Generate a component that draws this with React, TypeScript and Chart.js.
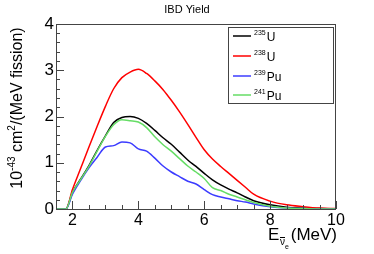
import React, { useEffect, useRef } from "react";
import { Chart, registerables } from "chart.js";

Chart.register(...registerables);

const energies = [1.5, 1.8, 2.0, 2.25, 2.5, 2.75, 3.0, 3.25, 3.5, 3.75, 4.0, 4.25, 4.5, 4.75, 5.0, 5.25, 5.5, 5.75, 6.0, 6.25, 6.5, 6.75, 7.0, 7.25, 7.5, 8.0, 8.5, 9.0, 9.5, 10.0];
const u235 = [0, 0, 0.36, 0.65, 0.94, 1.27, 1.58, 1.87, 1.98, 2.0, 1.96, 1.85, 1.7, 1.54, 1.4, 1.23, 1.06, 0.92, 0.77, 0.63, 0.52, 0.43, 0.35, 0.26, 0.18, 0.09, 0.04, 0.02, 0.01, 0];
const u238 = [0, 0, 0.42, 0.88, 1.34, 1.79, 2.22, 2.6, 2.84, 2.96, 3.02, 2.93, 2.77, 2.58, 2.35, 2.1, 1.83, 1.55, 1.28, 1.08, 0.92, 0.77, 0.62, 0.47, 0.32, 0.17, 0.09, 0.05, 0.02, 0.01];
const pu239 = [0, 0, 0.32, 0.62, 0.89, 1.12, 1.34, 1.37, 1.45, 1.43, 1.3, 1.25, 1.1, 0.93, 0.8, 0.7, 0.6, 0.54, 0.42, 0.31, 0.26, 0.22, 0.18, 0.15, 0.11, 0.05, 0.02, 0.01, 0, 0];
const pu241 = [0, 0, 0.36, 0.64, 0.92, 1.25, 1.57, 1.82, 1.93, 1.91, 1.88, 1.76, 1.56, 1.39, 1.25, 1.09, 0.93, 0.8, 0.66, 0.46, 0.4, 0.32, 0.26, 0.2, 0.14, 0.06, 0.02, 0.01, 0, 0];

const seriesSup = ["235", "238", "239", "241"];
const seriesBase = ["U", "U", "Pu", "Pu"];
const seriesColors = ["#000000", "#ff0000", "#3c3cff", "#66dd66"];
const xMajorTicks = [2, 4, 6, 8, 10];
const yMajorTicks = [0, 1, 2, 3, 4];
const titleText = "IBD Yield";

const FONT = "'Liberation Sans', Arial, Helvetica, sans-serif";

const decorPlugin = {
  id: "decor",
  afterDatasetsDraw(chart: any) {
    const ctx = chart.ctx as CanvasRenderingContext2D;
    const { left, right, top, bottom } = chart.chartArea;
    const xs = chart.scales.x;
    const ys = chart.scales.y;
    ctx.save();
    // frame
    ctx.strokeStyle = "#444";
    ctx.lineWidth = 1;
    ctx.strokeRect(Math.round(left) + 0.5, Math.round(top) + 0.5, Math.round(right - left) - 1, Math.round(bottom - top));
    // inward ticks
    ctx.beginPath();
    for (let v = 1.5; v <= 10.001; v += 0.5) {
      const px = Math.round(xs.getPixelForValue(v)) + 0.5;
      const major = Math.abs(v - Math.round(v / 2) * 2) < 1e-6;
      const len = major ? 8 : 4;
      ctx.moveTo(px, bottom);
      ctx.lineTo(px, bottom - len);
    }
    for (let v = 0; v <= 4.001; v += 0.2) {
      const py = Math.round(ys.getPixelForValue(v)) + 0.5;
      const major = Math.abs(v - Math.round(v)) < 1e-6;
      const len = major ? 8 : 4;
      ctx.moveTo(left, py);
      ctx.lineTo(left + len, py);
    }
    ctx.stroke();

    // title
    ctx.fillStyle = "#000";
    ctx.font = `11px ${FONT}`;
    ctx.textAlign = "center";
    ctx.textBaseline = "alphabetic";
    ctx.fillText(titleText, 187, 13);

    // x axis title: E_{nu-bar_e} (MeV)
    ctx.textAlign = "left";
    ctx.font = `17px ${FONT}`;
    ctx.fillText("E", 268, 240);
    ctx.font = `10px ${FONT}`;
    ctx.fillText("\u03bd", 280, 245);
    const nuW = ctx.measureText("\u03bd").width;
    ctx.beginPath();
    ctx.strokeStyle = "#000";
    ctx.moveTo(280, 237.5);
    ctx.lineTo(280 + nuW, 237.5);
    ctx.stroke();
    ctx.font = `7px ${FONT}`;
    ctx.fillText("e", 280 + nuW, 249);
    ctx.font = `17px ${FONT}`;
    ctx.textAlign = "right";
    ctx.fillText("(MeV)", 337, 240);

    // y axis title rotated
    ctx.save();
    ctx.translate(22, 108);
    ctx.rotate(-Math.PI / 2);
    const parts: [string, number, number][] = [
      ["10", 16, 0],
      ["-43", 10, -7],
      [" cm", 16, 0],
      ["2", 10, -7],
      ["/(MeV fission)", 16, 0],
    ];
    let total = 0;
    for (const [t, s] of parts) {
      ctx.font = `${s}px ${FONT}`;
      total += ctx.measureText(t).width;
    }
    let cx = -total / 2;
    ctx.textAlign = "left";
    for (const [t, s, dy] of parts) {
      ctx.font = `${s}px ${FONT}`;
      ctx.fillText(t, cx, dy);
      cx += ctx.measureText(t).width;
    }
    ctx.restore();

    // legend
    const bx = 228, by = 27, bw = 105, bh = 76;
    ctx.fillStyle = "#fff";
    ctx.fillRect(bx, by, bw, bh);
    ctx.strokeStyle = "#444";
    ctx.lineWidth = 1;
    ctx.strokeRect(bx + 0.5, by + 0.5, bw, bh);
    const rows = [36, 56, 76, 95];
    ctx.textAlign = "left";
    for (let i = 0; i < 4; i++) {
      const ry = rows[i];
      ctx.strokeStyle = seriesColors[i];
      ctx.lineWidth = 1.5;
      ctx.beginPath();
      ctx.moveTo(233, ry);
      ctx.lineTo(251, ry);
      ctx.stroke();
      ctx.fillStyle = "#000";
      ctx.font = `7px ${FONT}`;
      ctx.fillText(seriesSup[i], 254, ry - 1);
      const sw = ctx.measureText(seriesSup[i]).width;
      ctx.font = `12px ${FONT}`;
      ctx.fillText(seriesBase[i], 254 + sw + 1, ry + 5);
    }
    ctx.restore();
  },
};

export default function App() {
  const ref = useRef<HTMLCanvasElement | null>(null);
  useEffect(() => {
    if (!ref.current) return;
    const mk = (arr: number[]) => energies.map((e, i) => ({ x: e, y: arr[i] }));
    const allSeries = [u235, u238, pu239, pu241];
    const chart = new Chart(ref.current, {
      type: "line",
      data: {
        datasets: allSeries.map((arr, i) => ({
          label: seriesSup[i] + seriesBase[i],
          data: mk(arr),
          borderColor: seriesColors[i],
          borderWidth: 1.5,
          pointRadius: 0,
          cubicInterpolationMode: "monotone" as const,
          fill: false,
          order: 3 - i,
        })),
      },
      options: {
        animation: false,
        responsive: false,
        maintainAspectRatio: false,
        layout: { padding: { left: 0, right: 38, top: 24, bottom: 0 } },
        plugins: {
          legend: { display: false },
          title: { display: false },
          tooltip: { enabled: false },
        },
        scales: {
          x: {
            type: "linear",
            min: 1.5,
            max: 10,
            afterBuildTicks: (s: any) => {
              s.ticks = xMajorTicks.map((v) => ({ value: v }));
            },
            afterFit: (s: any) => {
              s.height = 45;
            },
            grid: { display: false, drawTicks: false },
            border: { display: false },
            ticks: {
              padding: 2,
              color: "#000",
              font: { family: FONT, size: 16 },
              maxRotation: 0,
              autoSkip: false,
            },
          },
          y: {
            type: "linear",
            min: 0,
            max: 4,
            afterBuildTicks: (s: any) => {
              s.ticks = yMajorTicks.map((v) => ({ value: v }));
            },
            afterFit: (s: any) => {
              s.width = 56;
            },
            grid: { display: false, drawTicks: false },
            border: { display: false },
            ticks: {
              padding: 2,
              color: "#000",
              font: { family: FONT, size: 17 },
              autoSkip: false,
            },
          },
        },
      },
      plugins: [decorPlugin],
    });
    return () => chart.destroy();
  }, []);
  return (
    <div style={{ position: "fixed", left: 0, top: 0, width: 374, height: 254, background: "#fff" }}>
      <canvas ref={ref} width={374} height={254} style={{ width: 374, height: 254, display: "block" }} />
    </div>
  );
}
